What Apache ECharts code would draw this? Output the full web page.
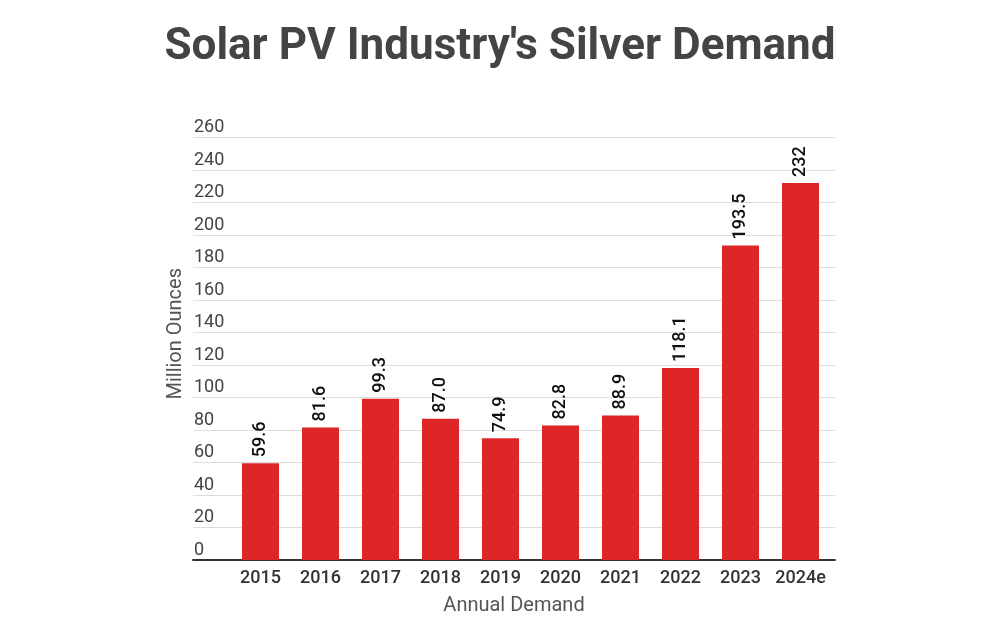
<!DOCTYPE html>
<html><head><meta charset="utf-8">
<script src="https://cdn.jsdelivr.net/npm/echarts@6/dist/echarts.min.js"></script>
<style>html,body{margin:0;padding:0;background:#fff}#c{width:1000px;height:640px}</style>
</head><body><div id="c"></div>
<script>
const categories = ['2015','2016','2017','2018','2019','2020','2021','2022','2023','2024e'];
const demand = [59.6, 81.6, 99.3, 87.0, 74.9, 82.8, 88.9, 118.1, 193.5, 232];
const valueLabels = ['59.6','81.6','99.3','87.0','74.9','82.8','88.9','118.1','193.5','232'];
const yMin = 0, yMax = 260, yStep = 20;

const chart = echarts.init(document.getElementById('c'));
const font = 'Roboto, "Noto Sans", sans-serif';
chart.setOption({
  animation: false,
  textStyle: { fontFamily: font },
  title: {
    text: "Solar PV Industry's Silver Demand",
    left: 'center', top: 21,
    textStyle: { fontFamily: font, fontSize: 44, fontWeight: 'bold', color: '#444' }
  },
  graphic: [{
    type: 'text', left: 166, top: 268, rotation: Math.PI / 2,
    style: { text: 'Million Ounces', font: '20px ' + font, fill: '#555' }
  }],
  grid: [
    { left: 193, right: 165, top: 137.5, bottom: 80 },
    { left: 230.5, right: 169.5, top: 137.5, bottom: 80 }
  ],
  xAxis: [
    { type: 'value', gridIndex: 0, min: 0, max: 1,
      axisLine: { show: true, lineStyle: { color: '#333', width: 2 } },
      axisTick: { show: false }, axisLabel: { show: false }, splitLine: { show: false },
      name: 'Annual Demand', nameLocation: 'middle', nameGap: 36,
      nameTextStyle: { fontFamily: font, fontSize: 20, color: '#555' } },
    { type: 'category', gridIndex: 1, data: categories,
      axisLine: { show: false }, axisTick: { show: false },
      axisLabel: { interval: 0, fontFamily: font, fontSize: 18, fontWeight: 500, color: '#333', margin: 9 } }
  ],
  yAxis: [
    { type: 'value', gridIndex: 0, min: yMin, max: yMax, interval: yStep,
      axisLine: { show: false }, axisTick: { show: false },
      splitLine: { lineStyle: { color: '#ddd', width: 1 } },
      axisLabel: { inside: true, margin: 1, verticalAlign: 'bottom', padding: [0, 0, 1, 0],
        fontFamily: font, fontSize: 18, color: '#444' } },
    { type: 'value', gridIndex: 1, min: yMin, max: yMax, interval: yStep, show: false }
  ],
  series: [{
    type: 'bar', xAxisIndex: 1, yAxisIndex: 1,
    data: demand, barWidth: 37,
    itemStyle: { color: '#de2528' },
    label: { show: true, position: 'top', rotate: 90, align: 'left', verticalAlign: 'middle',
      distance: 6, fontFamily: font, fontSize: 18, fontWeight: 500, color: '#111',
      formatter: p => valueLabels[p.dataIndex] }
  }]
});
</script></body></html>
